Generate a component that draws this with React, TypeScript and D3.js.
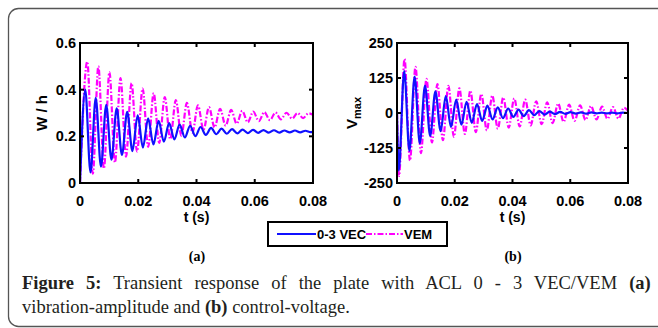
import React from "react";
import * as d3 from "d3";

// ---- data (extrema of the transient responses) ----
const xTicks = [0, 0.02, 0.04, 0.06, 0.08];
const xTickLabels = ["0", "0.02", "0.04", "0.06", "0.08"];
const yTicksA = [0, 0.2, 0.4, 0.6];
const yTickLabelsA = ["0", "0.2", "0.4", "0.6"];
const yTicksB = [-250, -125, 0, 125, 250];
const yTickLabelsB = ["-250", "-125", "0", "125", "250"];
const seriesNames = ["0-3 VEC", "VEM"];

// (a) W/h, 0-3 VEC
const tA_vec = [0, 0.0018, 0.0036, 0.0054, 0.0072, 0.009, 0.0108, 0.0126, 0.0144, 0.0162,
  0.018, 0.0198, 0.0216, 0.0234, 0.0252, 0.027, 0.0288, 0.0306, 0.0324, 0.0342,
  0.036, 0.0378, 0.0396, 0.0414, 0.0432, 0.045, 0.0468, 0.0486, 0.0504, 0.0522,
  0.054, 0.0558, 0.0576, 0.0594, 0.0612, 0.063, 0.0648, 0.0666, 0.0684, 0.0702,
  0.072, 0.0738, 0.0756, 0.0774, 0.0792, 0.08];
const wA_vec = [0, 0.40, 0.045, 0.365, 0.07, 0.335, 0.10, 0.32, 0.12, 0.305,
  0.137, 0.29, 0.152, 0.277, 0.165, 0.266, 0.177, 0.257, 0.187, 0.25,
  0.195, 0.245, 0.201, 0.240, 0.206, 0.236, 0.209, 0.233, 0.211, 0.231,
  0.213, 0.229, 0.214, 0.228, 0.215, 0.227, 0.216, 0.226, 0.216, 0.225,
  0.217, 0.225, 0.217, 0.224, 0.218, 0.221];

// (a) W/h, VEM
const tA_vem = [0, 0.0025, 0.0044, 0.0063, 0.0082, 0.0101, 0.012, 0.0139, 0.0158, 0.0177,
  0.0196, 0.0215, 0.0234, 0.0253, 0.0272, 0.0291, 0.031, 0.0329, 0.0348, 0.0367,
  0.0386, 0.0405, 0.0424, 0.0443, 0.0462, 0.0481, 0.05, 0.0519, 0.0538, 0.0557,
  0.0576, 0.0595, 0.0614, 0.0633, 0.0652, 0.0671, 0.069, 0.0709, 0.0728, 0.0747,
  0.0766, 0.0785, 0.08];
const wA_vem = [0, 0.52, 0.04, 0.50, 0.062, 0.475, 0.088, 0.45, 0.113, 0.428,
  0.135, 0.405, 0.155, 0.385, 0.172, 0.368, 0.188, 0.355, 0.203, 0.343,
  0.216, 0.333, 0.228, 0.325, 0.238, 0.318, 0.246, 0.313, 0.254, 0.309,
  0.26, 0.306, 0.265, 0.304, 0.269, 0.302, 0.273, 0.301, 0.276, 0.300,
  0.278, 0.299, 0.292];

// (b) Vmax, 0-3 VEC
const tB_vec = [0, 0.0006, 0.0025, 0.0043, 0.0061, 0.0079, 0.0097, 0.0115, 0.0133, 0.0151,
  0.0169, 0.0187, 0.0205, 0.0223, 0.0241, 0.0259, 0.0277, 0.0295, 0.0313, 0.0331,
  0.0349, 0.0367, 0.0385, 0.0403, 0.0421, 0.0439, 0.0457, 0.0475, 0.0493, 0.0511,
  0.0529, 0.0547, 0.0565, 0.0583, 0.0601, 0.0619, 0.0637, 0.0655, 0.0673, 0.0691,
  0.0709, 0.0727, 0.0745, 0.0763, 0.0781, 0.08];
const vB_vec = [0, -205, 150, -135, 130, -108, 98, -82, 77, -65,
  60, -50, 48, -42, 40, -35, 32, -28, 26, -23,
  20, -18, 16, -14, 12, -11, 10, -8, 7, -6,
  5, -4, 4, -3, 3, -2, 2, -2, 2, -1,
  1, -1, 1, -1, 1, 0];

// (b) Vmax, VEM
const tB_vem = [0, 0.0007, 0.0026, 0.0045, 0.0064, 0.0083, 0.0102, 0.0121, 0.014, 0.0159,
  0.0178, 0.0197, 0.0216, 0.0235, 0.0254, 0.0273, 0.0292, 0.0311, 0.033, 0.0349,
  0.0368, 0.0387, 0.0406, 0.0425, 0.0444, 0.0463, 0.0482, 0.0501, 0.052, 0.0539,
  0.0558, 0.0577, 0.0596, 0.0615, 0.0634, 0.0653, 0.0672, 0.0691, 0.071, 0.0729,
  0.0748, 0.0767, 0.0786, 0.08];
const vB_vem = [0, -225, 193, -170, 165, -143, 122, -105, 103, -97,
  97, -85, 88, -75, 80, -68, 68, -62, 62, -56,
  55, -52, 52, -48, 48, -44, 42, -40, 38, -36,
  34, -32, 30, -28, 27, -25, 25, -23, 23, -21,
  21, -20, 19, 8];

const BLUE = "#1010ff";
const MAGENTA = "#ff00ff";
const DASH = "6,2,1.5,2";
const SANS = "'Liberation Sans', Arial, sans-serif";
const SERIF = "'Liberation Serif', 'Times New Roman', serif";

type Series = { t: number[]; v: number[]; color: string; dash?: string };

function Panel(props: {
  id: string;
  left: number; right: number; top: number; bottom: number;
  yDomain: [number, number];
  yTicks: number[]; yTickLabels: string[];
  series: Series[];
  ylabel: React.ReactNode;
  ylabelX: number;
}) {
  const { id, left, right, top, bottom, yDomain, yTicks, yTickLabels, series, ylabel, ylabelX } = props;
  const x = d3.scaleLinear().domain([0, 0.08]).range([left, right]);
  const y = d3.scaleLinear().domain(yDomain).range([bottom, top]);
  const tl = 4;
  const cx = (left + right) / 2;
  return (
    <g>
      <defs>
        <clipPath id={id}>
          <rect x={left} y={top} width={right - left} height={bottom - top} />
        </clipPath>
      </defs>
      <g clipPath={`url(#${id})`}>
        {series.map((s, i) => {
          const pts = s.t.map((t, k) => [t, s.v[k]] as [number, number]);
          const line = d3.line<[number, number]>()
            .x(d => x(d[0]))
            .y(d => y(d[1]))
            .curve(d3.curveMonotoneX);
          return (
            <path key={i} d={line(pts) || ""} fill="none" stroke={s.color}
              strokeWidth={2.2} strokeDasharray={s.dash} strokeLinejoin="round" />
          );
        })}
      </g>
      <rect x={left} y={top} width={right - left} height={bottom - top}
        fill="none" stroke="#000" strokeWidth={2} />
      {xTicks.map((t, i) => (
        <g key={"xt" + i}>
          <line x1={x(t)} x2={x(t)} y1={bottom} y2={bottom - tl} stroke="#000" strokeWidth={2} />
          <line x1={x(t)} x2={x(t)} y1={top} y2={top + tl} stroke="#000" strokeWidth={2} />
          <text x={x(t)} y={206} textAnchor="middle" fontFamily={SANS} fontWeight="bold"
            fontSize={14.5}>{xTickLabels[i]}</text>
        </g>
      ))}
      {yTicks.map((v, i) => (
        <g key={"yt" + i}>
          <line x1={left} x2={left + tl} y1={y(v)} y2={y(v)} stroke="#000" strokeWidth={2} />
          <line x1={right} x2={right - tl} y1={y(v)} y2={y(v)} stroke="#000" strokeWidth={2} />
          <text x={left - 4} y={y(v) + 5} textAnchor="end" fontFamily={SANS} fontWeight="bold"
            fontSize={14.5}>{yTickLabels[i]}</text>
        </g>
      ))}
      <text x={cx} y={222} textAnchor="middle" fontFamily={SANS} fontWeight="bold" fontSize={14}>t (s)</text>
      <text transform={`translate(${ylabelX},${(top + bottom) / 2}) rotate(-90)`} textAnchor="middle"
        fontFamily={SANS} fontWeight="bold" fontSize={15}>{ylabel}</text>
    </g>
  );
}

export default function App() {
  return (
    <svg width={658} height={328} style={{ position: "absolute", left: 0, top: 0, background: "#fff" }}>
      <rect x={8.5} y={8.5} width={660} height={318} rx={10} fill="#fff" stroke="#555" strokeWidth={1.3} />
      <Panel id="clipA" left={80} right={313} top={43} bottom={183} yDomain={[0, 0.6]}
        yTicks={yTicksA} yTickLabels={yTickLabelsA}
        series={[
          { t: tA_vem, v: wA_vem, color: MAGENTA, dash: DASH },
          { t: tA_vec, v: wA_vec, color: BLUE },
        ]}
        ylabel="W / h" ylabelX={47} />
      <Panel id="clipB" left={397} right={628} top={43} bottom={183} yDomain={[-250, 250]}
        yTicks={yTicksB} yTickLabels={yTickLabelsB}
        series={[
          { t: tB_vem, v: vB_vem, color: MAGENTA, dash: DASH },
          { t: tB_vec, v: vB_vec, color: BLUE },
        ]}
        ylabel={<><tspan>V</tspan><tspan fontSize={11} dy={4}>max</tspan></>} ylabelX={357} />
      {/* legend */}
      <rect x={268} y={222} width={179} height={24} fill="#fff" stroke="#000" strokeWidth={2} />
      <line x1={277} x2={316} y1={234} y2={234} stroke={BLUE} strokeWidth={2.2} />
      <text x={317} y={239} fontFamily={SANS} fontWeight="bold" fontSize={13}>{seriesNames[0]}</text>
      <line x1={366} x2={403} y1={234} y2={234} stroke={MAGENTA} strokeWidth={2.2} strokeDasharray={DASH} />
      <text x={404} y={239} fontFamily={SANS} fontWeight="bold" fontSize={13}>{seriesNames[1]}</text>
      {/* panel letters */}
      <text x={197} y={261} textAnchor="middle" fontFamily={SERIF} fontWeight="bold" fontSize={14}>(a)</text>
      <text x={513} y={261} textAnchor="middle" fontFamily={SERIF} fontWeight="bold" fontSize={14}>(b)</text>
      {/* caption (line 1 justified) */}
      <text x={22} y={289} fontFamily={SERIF} fontSize={18.5} fill="#231f20" wordSpacing={7.4}>
        <tspan fontWeight="bold">Figure 5:</tspan>
        <tspan> Transient response of the plate with ACL 0 - 3 VEC/VEM </tspan>
        <tspan fontWeight="bold">(a)</tspan>
      </text>
      <text x={22} y={313} fontFamily={SERIF} fontSize={18.5} fill="#231f20">
        <tspan>vibration-amplitude and </tspan>
        <tspan fontWeight="bold">(b)</tspan>
        <tspan> control-voltage.</tspan>
      </text>
    </svg>
  );
}
